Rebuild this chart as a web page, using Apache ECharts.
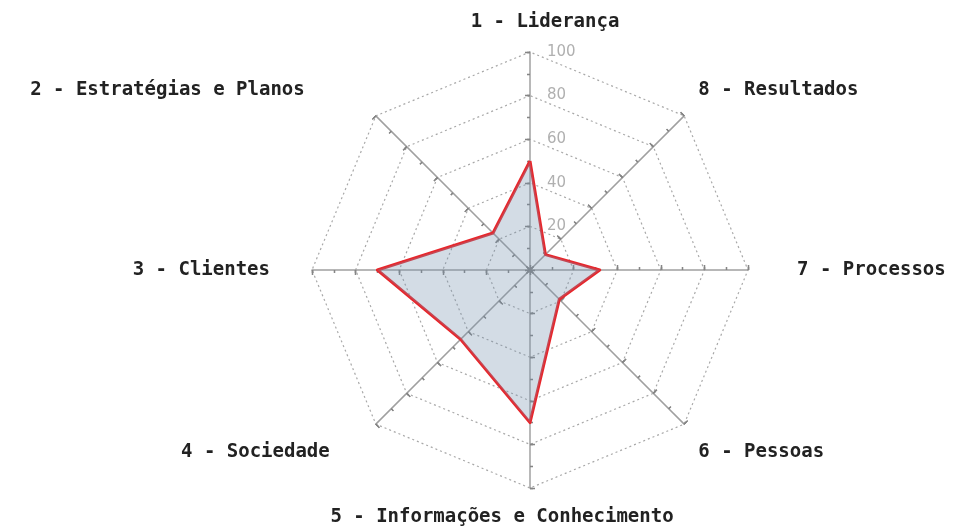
<!DOCTYPE html>
<html>
<head>
<meta charset="utf-8">
<script src="https://cdn.jsdelivr.net/npm/echarts@6/dist/echarts.min.js"></script>
<style>
  html, body { margin: 0; padding: 0; background: #fff; }
  #main { width: 958px; height: 526px; }
</style>
</head>
<body>
<div id="main"></div>
<script>
// dados
var categorias = ['1 - Liderança', '2 - Estratégias e Planos', '3 - Clientes', '4 - Sociedade',
  '5 - Informações e Conhecimento', '6 - Pessoas', '7 - Processos', '8 - Resultados'];
var valores = [50, 24, 70, 45, 70, 19, 32, 10];
var escalaMax = 100;
var rotulosEscala = [20, 40, 60, 80, 100];

var myChart = echarts.init(document.getElementById('main'));

var centro = [530, 270];
var raio = 218;

// deslocamento de cada nome (rich text por índice)
var ajustes = {
  n0: [0, 0, 0, 30],
  n1: [0, 57, 24, 0],
  n2: [0, 22, 0, 0],
  n3: [28, 32, 0, 0],
  n4: [0, 56, 0, 0],
  n5: [28, 0, 0, 0],
  n6: [0, 0, 0, 29],
  n7: [0, 0, 24, 0]
};
var rich = {};
Object.keys(ajustes).forEach(function (k) {
  rich[k] = {
    fontFamily: 'DejaVu Sans Mono',
    fontWeight: 'bold',
    fontSize: 19,
    color: '#222',
    padding: ajustes[k]
  };
});

function indicadores() {
  return categorias.map(function (c) {
    return { name: c, min: 0, max: escalaMax };
  });
}

// radares extras só para desenhar as marcas cruzadas nos eixos
function radarMarcas(split, len, inside) {
  return {
    center: centro,
    radius: raio,
    startAngle: 90,
    splitNumber: split,
    shape: 'polygon',
    indicator: indicadores(),
    axisName: { show: false },
    axisLine: { show: false },
    axisTick: { show: true, inside: inside, length: len, lineStyle: { color: '#858585', width: 1.3 } },
    splitLine: { show: false },
    splitArea: { show: false }
  };
}

myChart.setOption({
  animation: false,
  radar: [{
    center: centro,
    radius: raio,
    startAngle: 90,
    splitNumber: 5,
    shape: 'polygon',
    nameGap: 20,
    indicator: indicadores(),
    axisName: {
      formatter: function (name) {
        return '{n' + categorias.indexOf(name) + '|' + name + '}';
      },
      rich: rich
    },
    axisLine: { lineStyle: { color: '#a0a0a0', width: 1.5 } },
    axisTick: { show: false },
    splitLine: {
      lineStyle: { color: '#a8a8a8', type: [2, 3], width: 1.2 }
    },
    splitArea: { show: false }
  },
    radarMarcas(10, 3, false),
    radarMarcas(10, 3, true),
    radarMarcas(5, 5, false),
    radarMarcas(5, 5, true)
  ],
  polar: {
    center: centro,
    radius: raio
  },
  angleAxis: {
    show: false,
    startAngle: 90,
    min: 0,
    max: 360
  },
  radiusAxis: {
    type: 'value',
    min: 0,
    max: escalaMax,
    interval: 20,
    axisLine: { show: false },
    axisTick: { show: false },
    splitLine: { show: false },
    axisLabel: {
      showMinLabel: false,
      align: 'left',
      margin: -17,
      color: '#b0b0b0',
      fontFamily: 'DejaVu Sans',
      fontSize: 15,
      formatter: function (v) {
        return rotulosEscala.indexOf(v) >= 0 ? String(v) : '';
      }
    }
  },
  series: [{
    type: 'radar',
    radarIndex: 0,
    symbol: 'none',
    z: 1,
    lineStyle: { color: '#e8262b', width: 3 },
    areaStyle: { color: 'rgba(115,145,172,0.45)' },
    data: [{ value: valores, name: 'Avaliação' }]
  }]
});
</script>
</body>
</html>
